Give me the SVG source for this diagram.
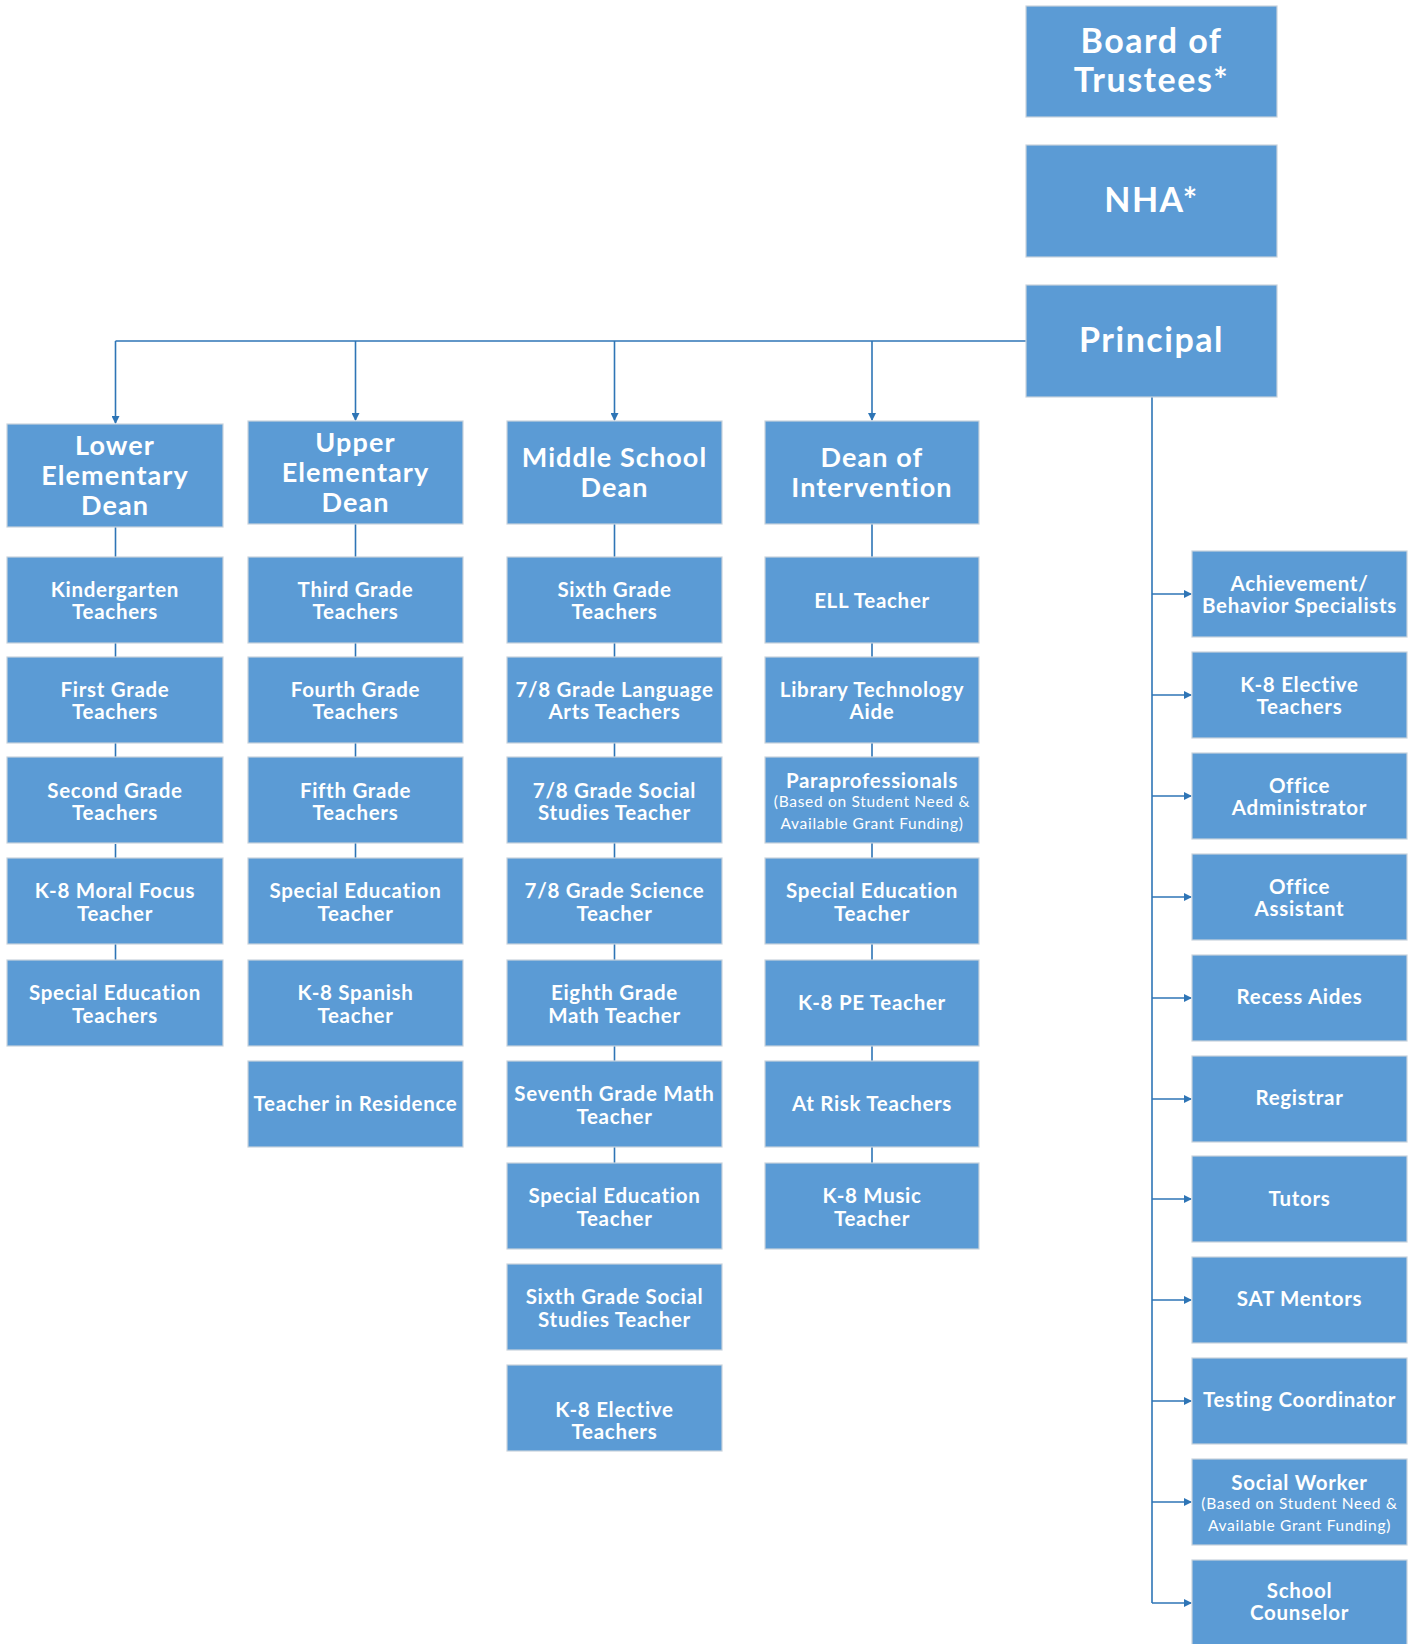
<svg xmlns="http://www.w3.org/2000/svg" width="1413" height="1644" viewBox="0 0 1413 1644">
<style>
.b{fill:#5B9BD5;stroke:#c8d2dc;stroke-width:1.2}
text{font-family:Lato,"Liberation Sans",sans-serif;font-weight:bold;fill:#fff;text-anchor:middle}
.t{font-size:20.5px;letter-spacing:0.7px}
.d{font-size:27px;letter-spacing:1.1px}
.h{font-size:34px;letter-spacing:1.5px}
.s{font-size:15.5px;font-weight:normal;letter-spacing:0.7px}
.c{stroke:#2E75B6;stroke-width:1.6;fill:none}
</style>
<defs>
<marker id="ah" markerWidth="8" markerHeight="8" refX="7" refY="4" orient="auto" markerUnits="userSpaceOnUse">
<path d="M0,0 L8,4 L0,8 z" fill="#2E75B6"/>
</marker>
</defs>
<rect width="1413" height="1644" fill="#fff"/>
<g id="connectors">
<path class="c" d="M1026,341 H115.5"/>
<path class="c" d="M115.5,341 V423" marker-end="url(#ah)"/>
<path class="c" d="M355.5,341 V420" marker-end="url(#ah)"/>
<path class="c" d="M614.5,341 V420" marker-end="url(#ah)"/>
<path class="c" d="M872,341 V420" marker-end="url(#ah)"/>
<path class="c" d="M115.5,527 V557 M115.5,643 V657 M115.5,743 V757 M115.5,844 V858 M115.5,944 V960"/>
<path class="c" d="M355.5,524 V557 M355.5,643 V657 M355.5,743 V757 M355.5,843 V858"/>
<path class="c" d="M614.5,524 V557 M614.5,643 V657 M614.5,743 V757 M614.5,843 V858 M614.5,944 V960 M614.5,1046 V1061 M614.5,1147 V1163"/>
<path class="c" d="M872,524 V557 M872,643 V657 M872,743 V757 M872,843 V858 M872,944 V960 M872,1046 V1061 M872,1147 V1163"/>
<path class="c" d="M1152,397 V1603"/>
<path class="c" d="M1152,594 H1191" marker-end="url(#ah)"/>
<path class="c" d="M1152,695 H1191" marker-end="url(#ah)"/>
<path class="c" d="M1152,796 H1191" marker-end="url(#ah)"/>
<path class="c" d="M1152,897 H1191" marker-end="url(#ah)"/>
<path class="c" d="M1152,998 H1191" marker-end="url(#ah)"/>
<path class="c" d="M1152,1099 H1191" marker-end="url(#ah)"/>
<path class="c" d="M1152,1199 H1191" marker-end="url(#ah)"/>
<path class="c" d="M1152,1300 H1191" marker-end="url(#ah)"/>
<path class="c" d="M1152,1401 H1191" marker-end="url(#ah)"/>
<path class="c" d="M1152,1502 H1191" marker-end="url(#ah)"/>
<path class="c" d="M1152,1603 H1191" marker-end="url(#ah)"/>
</g>
<g id="board"><rect class="b" x="1026" y="6" width="251" height="111"/><text class="h" x="1151.5" y="53">Board of</text><text class="h" x="1151.5" y="92">Trustees*</text></g>
<g id="nha"><rect class="b" x="1026" y="145" width="251" height="112"/><text class="h" x="1151.5" y="212">NHA*</text></g>
<g id="principal"><rect class="b" x="1026" y="285" width="251" height="112"/><text class="h" x="1151.5" y="352">Principal</text></g>

<g id="lower-dean"><rect class="b" x="7" y="424" width="216" height="103"/><text class="d" x="115" y="455">Lower</text><text class="d" x="115" y="485">Elementary</text><text class="d" x="115" y="515">Dean</text></g>
<g id="upper-dean"><rect class="b" x="248" y="421" width="215" height="103"/><text class="d" x="355.5" y="452">Upper</text><text class="d" x="355.5" y="482">Elementary</text><text class="d" x="355.5" y="512">Dean</text></g>
<g id="middle-dean"><rect class="b" x="507" y="421" width="215" height="103"/><text class="d" x="614.5" y="467">Middle School</text><text class="d" x="614.5" y="497">Dean</text></g>
<g id="intervention-dean"><rect class="b" x="765" y="421" width="214" height="103"/><text class="d" x="872" y="467">Dean of</text><text class="d" x="872" y="497">Intervention</text></g>

<g id="kindergarten"><rect class="b" x="7" y="557" width="216" height="86"/><text class="t" x="115" y="597">Kindergarten</text><text class="t" x="115" y="619">Teachers</text></g>
<g id="first-grade"><rect class="b" x="7" y="657" width="216" height="86"/><text class="t" x="115" y="697">First Grade</text><text class="t" x="115" y="719">Teachers</text></g>
<g id="second-grade"><rect class="b" x="7" y="757" width="216" height="86"/><text class="t" x="115" y="798">Second Grade</text><text class="t" x="115" y="820">Teachers</text></g>
<g id="moral-focus"><rect class="b" x="7" y="858" width="216" height="86"/><text class="t" x="115" y="898">K-8 Moral Focus</text><text class="t" x="115" y="921">Teacher</text></g>
<g id="lower-sped"><rect class="b" x="7" y="960" width="216" height="86"/><text class="t" x="115" y="1000">Special Education</text><text class="t" x="115" y="1023">Teachers</text></g>

<g id="third-grade"><rect class="b" x="248" y="557" width="215" height="86"/><text class="t" x="355.5" y="597">Third Grade</text><text class="t" x="355.5" y="619">Teachers</text></g>
<g id="fourth-grade"><rect class="b" x="248" y="657" width="215" height="86"/><text class="t" x="355.5" y="697">Fourth Grade</text><text class="t" x="355.5" y="719">Teachers</text></g>
<g id="fifth-grade"><rect class="b" x="248" y="757" width="215" height="86"/><text class="t" x="355.5" y="798">Fifth Grade</text><text class="t" x="355.5" y="820">Teachers</text></g>
<g id="upper-sped"><rect class="b" x="248" y="858" width="215" height="86"/><text class="t" x="355.5" y="898">Special Education</text><text class="t" x="355.5" y="921">Teacher</text></g>
<g id="spanish"><rect class="b" x="248" y="960" width="215" height="86"/><text class="t" x="355.5" y="1000">K-8 Spanish</text><text class="t" x="355.5" y="1023">Teacher</text></g>
<g id="residence"><rect class="b" x="248" y="1061" width="215" height="86"/><text class="t" x="355.5" y="1111">Teacher in Residence</text></g>

<g id="sixth-grade"><rect class="b" x="507" y="557" width="215" height="86"/><text class="t" x="614.5" y="597">Sixth Grade</text><text class="t" x="614.5" y="619">Teachers</text></g>
<g id="lang-arts"><rect class="b" x="507" y="657" width="215" height="86"/><text class="t" x="614.5" y="697">7/8 Grade Language</text><text class="t" x="614.5" y="719">Arts Teachers</text></g>
<g id="social-studies"><rect class="b" x="507" y="757" width="215" height="86"/><text class="t" x="614.5" y="798">7/8 Grade Social</text><text class="t" x="614.5" y="820">Studies Teacher</text></g>
<g id="science"><rect class="b" x="507" y="858" width="215" height="86"/><text class="t" x="614.5" y="898">7/8 Grade Science</text><text class="t" x="614.5" y="921">Teacher</text></g>
<g id="eighth-math"><rect class="b" x="507" y="960" width="215" height="86"/><text class="t" x="614.5" y="1000">Eighth Grade</text><text class="t" x="614.5" y="1023">Math Teacher</text></g>
<g id="seventh-math"><rect class="b" x="507" y="1061" width="215" height="86"/><text class="t" x="614.5" y="1101">Seventh Grade Math</text><text class="t" x="614.5" y="1124">Teacher</text></g>
<g id="middle-sped"><rect class="b" x="507" y="1163" width="215" height="86"/><text class="t" x="614.5" y="1203">Special Education</text><text class="t" x="614.5" y="1226">Teacher</text></g>
<g id="sixth-social"><rect class="b" x="507" y="1264" width="215" height="86"/><text class="t" x="614.5" y="1304">Sixth Grade Social</text><text class="t" x="614.5" y="1327">Studies Teacher</text></g>
<g id="middle-elective"><rect class="b" x="507" y="1365" width="215" height="86"/><text class="t" x="614.5" y="1417">K-8 Elective</text><text class="t" x="614.5" y="1439">Teachers</text></g>

<g id="ell"><rect class="b" x="765" y="557" width="214" height="86"/><text class="t" x="872" y="608">ELL Teacher</text></g>
<g id="library"><rect class="b" x="765" y="657" width="214" height="86"/><text class="t" x="872" y="697">Library Technology</text><text class="t" x="872" y="719">Aide</text></g>
<g id="paraprofessionals"><rect class="b" x="765" y="757" width="214" height="86"/><text class="t" x="872" y="788">Paraprofessionals</text><text class="s" x="872" y="807">(Based on Student Need &amp;</text><text class="s" x="872" y="829">Available Grant Funding)</text></g>
<g id="intervention-sped"><rect class="b" x="765" y="858" width="214" height="86"/><text class="t" x="872" y="898">Special Education</text><text class="t" x="872" y="921">Teacher</text></g>
<g id="pe"><rect class="b" x="765" y="960" width="214" height="86"/><text class="t" x="872" y="1010">K-8 PE Teacher</text></g>
<g id="at-risk"><rect class="b" x="765" y="1061" width="214" height="86"/><text class="t" x="872" y="1111">At Risk Teachers</text></g>
<g id="music"><rect class="b" x="765" y="1163" width="214" height="86"/><text class="t" x="872" y="1203">K-8 Music</text><text class="t" x="872" y="1226">Teacher</text></g>

<g id="achievement"><rect class="b" x="1192" y="551" width="215" height="86"/><text class="t" x="1299.5" y="591">Achievement/</text><text class="t" x="1299.5" y="613">Behavior Specialists</text></g>
<g id="elective"><rect class="b" x="1192" y="652" width="215" height="86"/><text class="t" x="1299.5" y="692">K-8 Elective</text><text class="t" x="1299.5" y="714">Teachers</text></g>
<g id="office-admin"><rect class="b" x="1192" y="753" width="215" height="86"/><text class="t" x="1299.5" y="793">Office</text><text class="t" x="1299.5" y="815">Administrator</text></g>
<g id="office-assistant"><rect class="b" x="1192" y="854" width="215" height="86"/><text class="t" x="1299.5" y="894">Office</text><text class="t" x="1299.5" y="916">Assistant</text></g>
<g id="recess"><rect class="b" x="1192" y="955" width="215" height="86"/><text class="t" x="1299.5" y="1004">Recess Aides</text></g>
<g id="registrar"><rect class="b" x="1192" y="1056" width="215" height="86"/><text class="t" x="1299.5" y="1105">Registrar</text></g>
<g id="tutors"><rect class="b" x="1192" y="1156" width="215" height="86"/><text class="t" x="1299.5" y="1206">Tutors</text></g>
<g id="sat"><rect class="b" x="1192" y="1257" width="215" height="86"/><text class="t" x="1299.5" y="1306">SAT Mentors</text></g>
<g id="testing"><rect class="b" x="1192" y="1358" width="215" height="86"/><text class="t" x="1299.5" y="1407">Testing Coordinator</text></g>
<g id="social-worker"><rect class="b" x="1192" y="1459" width="215" height="86"/><text class="t" x="1299.5" y="1490">Social Worker</text><text class="s" x="1299.5" y="1509">(Based on Student Need &amp;</text><text class="s" x="1299.5" y="1531">Available Grant Funding)</text></g>
<g id="counselor"><rect class="b" x="1192" y="1560" width="215" height="90"/><text class="t" x="1299.5" y="1598">School</text><text class="t" x="1299.5" y="1620">Counselor</text></g>
</svg>
